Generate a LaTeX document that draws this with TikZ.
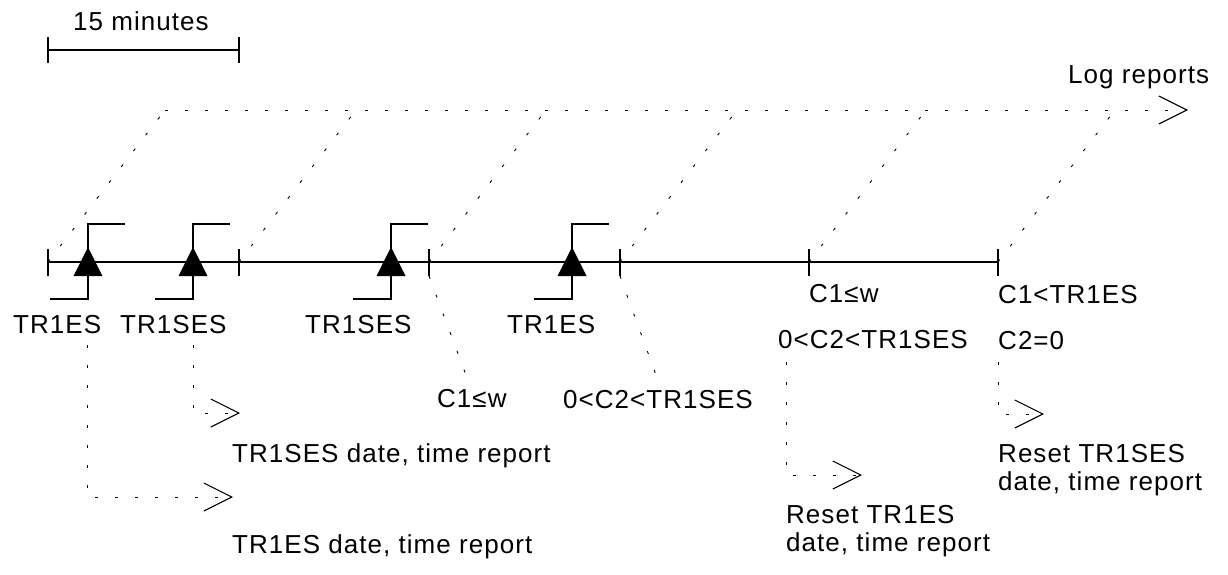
\documentclass[tikz,border=0pt]{standalone}
\usepackage{fontspec}
\setmainfont{Liberation Sans}[LetterSpace=4]
\usetikzlibrary{arrows.meta}
\begin{document}
\begin{tikzpicture}[x=1pt,y=-1pt,
  solidline/.style={line width=1.2pt},
  dotline/.style={line width=0.9pt, dash pattern=on 3pt off 17pt},
  openarrow/.style={-{Straight Barb[length=28pt,width=28pt,line width=1.1pt]}},
  lbl/.style={anchor=base west, inner sep=0pt, font=\fontsize{26}{31}\selectfont},
  trig/.style={fill=black},
]
\useasboundingbox (0,0) rectangle (1228,574);

% 15 minutes scale
\coordinate (m1) at (48,50);
\coordinate (m2) at (239,50);
\draw[solidline] (m1) -- (m2);
\draw[solidline] ([yshift=13pt]m1) -- ([yshift=-13pt]m1);
\draw[solidline] ([yshift=13pt]m2) -- ([yshift=-13pt]m2);
\node[lbl] (mins) at (73,30) {15 minutes};

% timeline ticks
\foreach \i/\x in {1/48,2/239,3/429,4/620,5/809,6/998} {
  \coordinate (t\i) at (\x,262);
  \coordinate (t\i top) at (\x,249);
  \coordinate (t\i bot) at (\x,276);
  \coordinate (d\i) at (\x+117,110);
}
\draw[solidline] (t1top) -- (t1bot);
\draw[solidline] (t2top) -- (t2bot);
\draw[line width=1.8pt] (t3top) -- (t3bot);
\draw[line width=1.6pt] (t4top) -- (t4bot);
\draw[solidline] (t5top) -- (t5bot);
\draw[solidline] (t6top) -- (t6bot);
\draw[solidline] (t1) -- (t6);

% events (triangles with brackets)
\foreach \i/\x in {1/88,2/193,3/391,4/572} {
  \coordinate (s\i) at (\x,262);
  \fill[trig] (\x-14.5,276) -- (\x,247) -- (\x+14.5,276) -- cycle;
  \draw[solidline] (\x-38,299) -- (\x,299) -- (\x,224) -- (\x+37,224);
}

% log reports line
\coordinate (logend) at (1188,110);
\draw[dotline, openarrow] (d1) -- (logend);
\foreach \i in {1,...,6} { \draw[dotline] (t\i) -- (d\i); }
\node[lbl] (log) at (1068,83) {Log reports};

% event labels
\node[lbl] (e1) at (13,333) {TR1ES};
\node[lbl] (e2) at (120,333) {TR1SES};
\node[lbl] (e3) at (305,333) {TR1SES};
\node[lbl] (e4) at (507,333) {TR1ES};

% condition labels
\node[lbl] (ca) at (437,407) {C1≤w};
\node[lbl] (cb) at (563,408) {0<C2<TR1SES};
\node[lbl] (cc) at (809,302) {C1≤w};
\node[lbl] (cd) at (778,348) {0<C2<TR1SES};
\node[lbl] (ce) at (998,303) {C1<TR1ES};
\node[lbl] (cf) at (998,349) {C2=0};

\coordinate (caend) at (466,375);
\coordinate (cbend) at (656,375);
\draw[dotline] (t3bot) -- (caend);
\draw[dotline] (t4bot) -- (cbend);

% report arrows
\coordinate (r1a) at (193,345);
\coordinate (r1b) at (193,413);
\coordinate (r1c) at (240,413);
\draw[dotline, openarrow] (r1a) -- (r1b) -- (r1c);
\node[lbl] (rep1) at (232,462) {TR1SES date, time report};

\coordinate (r2a) at (87,345);
\coordinate (r2b) at (87,497);
\coordinate (r2c) at (233,497);
\draw[dotline, openarrow] (r2a) -- (r2b) -- (r2c);
\node[lbl] (rep2) at (232,553) {TR1ES date, time report};

\coordinate (r3a) at (786,362);
\coordinate (r3b) at (786,475);
\coordinate (r3c) at (862,475);
\draw[dotline, openarrow] (r3a) -- (r3b) -- (r3c);
\node[lbl] (rep3a) at (786,523) {Reset TR1ES};
\node[lbl] (rep3b) at (786,551) {date, time report};

\coordinate (r4a) at (998,362);
\coordinate (r4b) at (998,414);
\coordinate (r4c) at (1044,414);
\draw[dotline, openarrow] (r4a) -- (r4b) -- (r4c);
\node[lbl] (rep4a) at (998,462) {Reset TR1SES};
\node[lbl] (rep4b) at (998,490) {date, time report};
\end{tikzpicture}
\end{document}
